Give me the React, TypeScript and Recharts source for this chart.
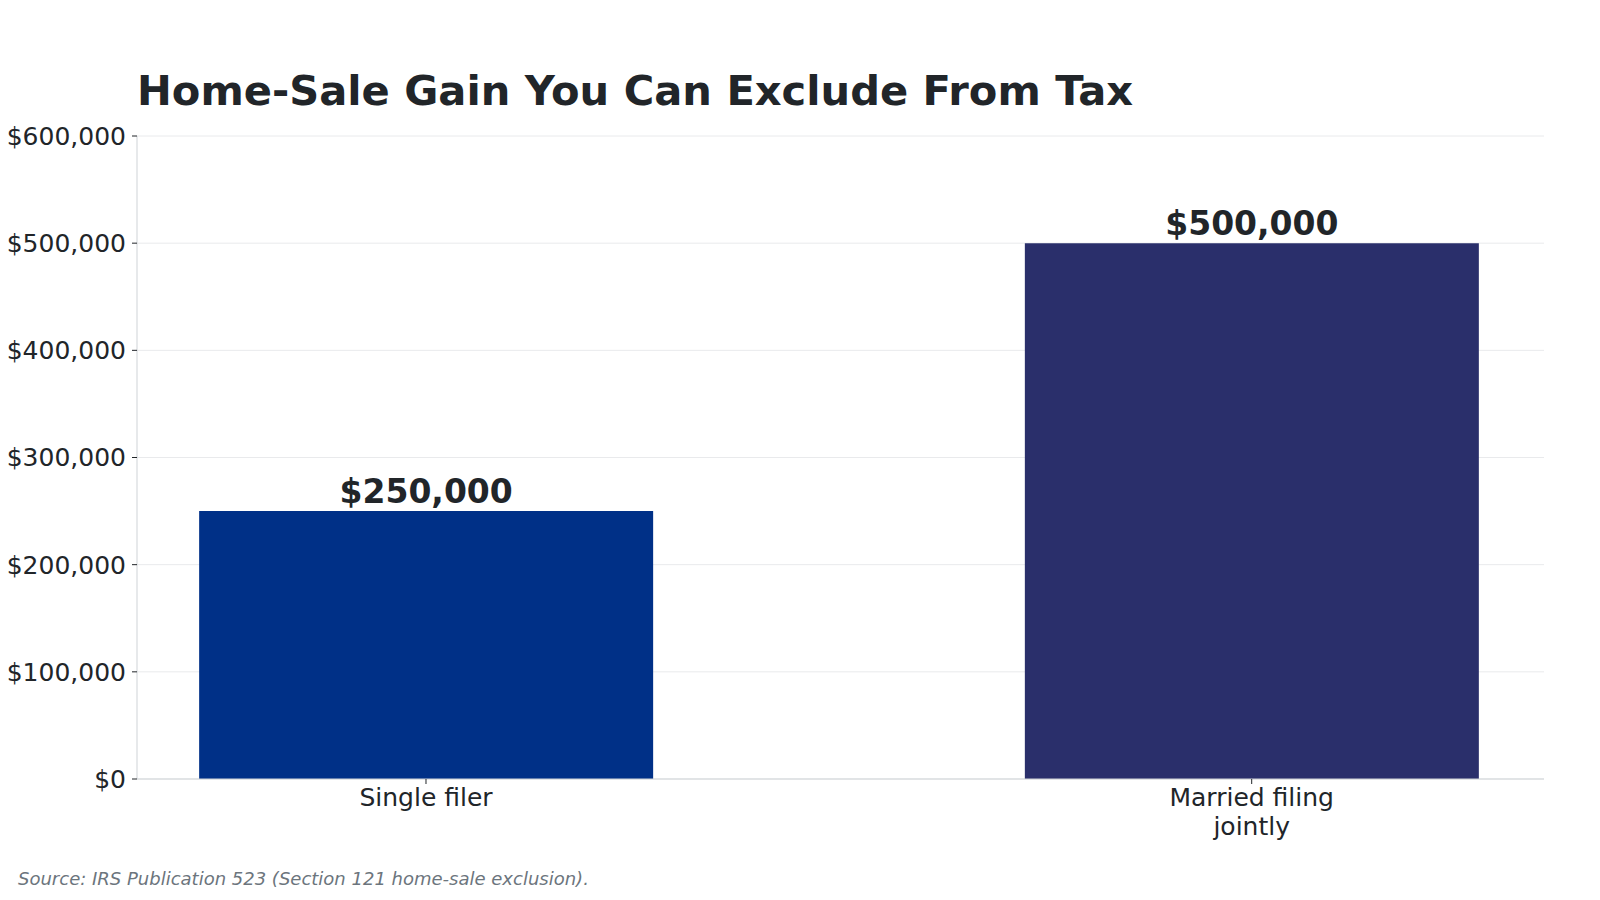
import { Bar, BarChart, CartesianGrid, Cell, LabelList, XAxis, YAxis } from "recharts";

const categories = ["Single filer", "Married filing\njointly"];
const exclusion = [250000, 500000];
const barColors = ["#003087", "#2a2f6b"];
const yTicks = [0, 100000, 200000, 300000, 400000, 500000, 600000];

const data = categories.map((name, i) => ({ idx: i, name, value: exclusion[i] }));

const FONT = "DejaVu Sans";
const money = (v: number) => "$" + Number(v).toLocaleString("en-US");

function CategoryTick(props: any) {
  const { x, y, payload } = props;
  const label = categories[Math.round(payload.value)] ?? "";
  const lines = label.split("\n");
  return (
    <text x={x} y={y} textAnchor="middle" fill="#212529" fontSize={25} fontFamily={FONT}>
      {lines.map((line, i) => (
        <tspan key={i} x={x} dy={i === 0 ? "0.71em" : 29}>
          {line}
        </tspan>
      ))}
    </text>
  );
}

export default function App() {
  return (
    <div
      style={{
        position: "absolute",
        left: 0,
        top: 0,
        width: 1600,
        height: 900,
        background: "#fff",
        fontFamily: FONT,
      }}
    >
      <BarChart
        width={1600}
        height={900}
        data={data}
        margin={{ top: 136, right: 56, bottom: 0, left: 0 }}
      >
        <CartesianGrid vertical={false} stroke="#e9eaec" />
        <XAxis
          type="number"
          dataKey="idx"
          domain={[-0.35, 1.354]}
          ticks={[0, 1]}
          allowDataOverflow
          height={121}
          tickSize={5}
          tickMargin={4}
          axisLine={{ stroke: "#cfd3d7" }}
          tickLine={{ stroke: "#212529" }}
          tick={<CategoryTick />}
        />
        <YAxis
          width={137}
          domain={[0, 600000]}
          ticks={yTicks}
          tickFormatter={money}
          tickSize={5}
          tickMargin={6}
          axisLine={{ stroke: "#cfd3d7" }}
          tickLine={{ stroke: "#212529" }}
          tick={{ fill: "#212529", fontSize: 25, fontFamily: FONT }}
        />
        <Bar dataKey="value" barSize={454} isAnimationActive={false}>
          {data.map((d, i) => (
            <Cell key={d.name} fill={barColors[i]} />
          ))}
          <LabelList
            dataKey="value"
            position="top"
            offset={8}
            formatter={(v: any) => money(v)}
            fill="#212529"
            fontSize={33}
            fontWeight="bold"
            fontFamily={FONT}
          />
        </Bar>
      </BarChart>
      <svg
        width={1600}
        height={900}
        style={{ position: "absolute", left: 0, top: 0, pointerEvents: "none" }}
      >
        <text x={137} y={105} fontSize={41.6} fontWeight="bold" fill="#212529" fontFamily={FONT}>
          Home-Sale Gain You Can Exclude From Tax
        </text>
        <text x={18} y={885} fontSize={18} fontStyle="italic" fill="#6c757d" fontFamily={FONT}>
          Source: IRS Publication 523 (Section 121 home-sale exclusion).
        </text>
      </svg>
    </div>
  );
}
